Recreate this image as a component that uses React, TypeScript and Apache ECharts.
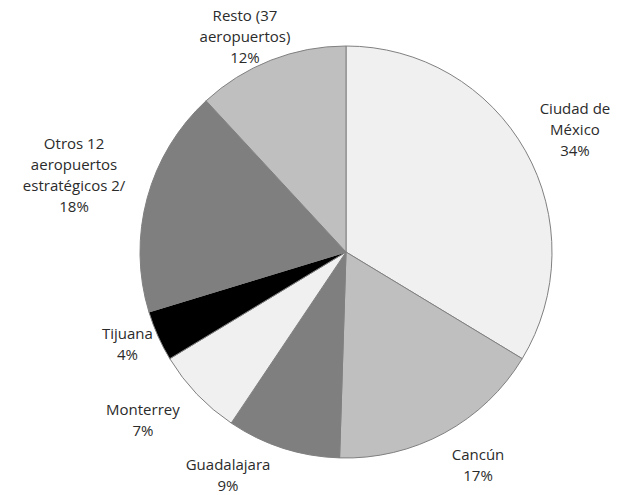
import React, { useEffect, useRef } from "react";
import * as echarts from "echarts";

const categories = [
  "Ciudad de\nMéxico",
  "Cancún",
  "Guadalajara",
  "Monterrey",
  "Tijuana",
  "Otros 12\naeropuertos\nestratégicos 2/",
  "Resto (37\naeropuertos)",
];
const shares = [34, 17, 9, 7, 4, 18, 12];
const sliceColors = ["#f0f0f0", "#bfbfbf", "#7f7f7f", "#f0f0f0", "#000000", "#7f7f7f", "#bfbfbf"];

// layout: small label nudges (px) applied after radial placement
const labelNudges: [number, number][] = [
  [4, 4],
  [16, -1],
  [-43, -11],
  [-20, -7],
  [4, -8],
  [-9, -6],
  [-7, 2],
];

const CX = 346;
const CY = 252;
const R = 206;
const GAP = 6;

export default function App() {
  const ref = useRef<HTMLDivElement>(null);
  useEffect(() => {
    if (!ref.current) return;
    const chart = echarts.init(ref.current, undefined, { renderer: "svg" });
    const total = shares.reduce((a, b) => a + b, 0);
    const mids: number[] = [];
    let acc = 0;
    shares.forEach((v) => {
      mids.push(((acc + v / 2) / total) * Math.PI * 2);
      acc += v;
    });
    chart.setOption({
      animation: false,
      backgroundColor: "#ffffff",
      series: [
        {
          type: "pie",
          center: [CX, CY],
          radius: [0, R],
          startAngle: 90,
          clockwise: true,
          avoidLabelOverlap: false,
          data: categories.map((name, i) => ({
            name,
            value: shares[i],
            itemStyle: { color: sliceColors[i] },
          })),
          itemStyle: { borderColor: "#808080", borderWidth: 1 },
          label: {
            show: true,
            position: "outside",
            formatter: (p: any) => `${p.name}\n${p.value}%`,
            fontFamily: "Open Sans",
            fontSize: 15,
            lineHeight: 21,
            color: "#2b2b2b",
            align: "center",
          },
          labelLine: { show: false },
          labelLayout: (params: any) => {
            const i = params.dataIndex;
            const a = mids[i];
            const s = Math.sin(a);
            const c = -Math.cos(a);
            const hw = params.labelRect.width / 2;
            const hh = params.labelRect.height / 2;
            const d = R + GAP + hw * Math.abs(s) + hh * Math.abs(c);
            let x = CX + d * s;
            let y = CY + d * c;
            y = Math.max(y, hh + 2);
            x += labelNudges[i][0];
            y += labelNudges[i][1];
            return { x, y, align: "center", verticalAlign: "middle" };
          },
        },
      ],
    });
    return () => chart.dispose();
  }, []);
  return (
    <div
      ref={ref}
      style={{ position: "fixed", left: 0, top: 0, width: 619, height: 495 }}
    />
  );
}
